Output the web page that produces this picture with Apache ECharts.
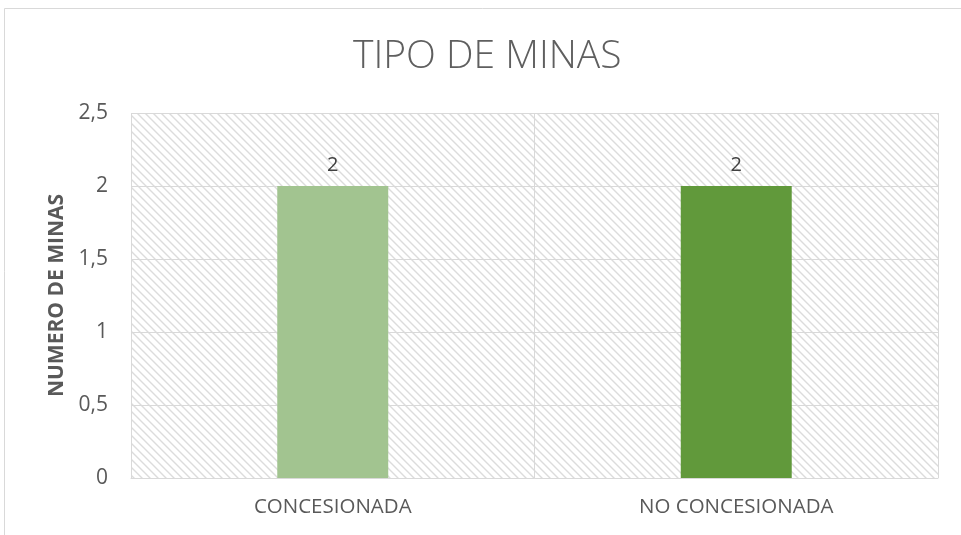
<!DOCTYPE html>
<html>
<head>
<meta charset="utf-8">
<script src="https://cdn.jsdelivr.net/npm/echarts@6/dist/echarts.min.js"></script>
<style>
html,body{margin:0;padding:0;background:#fff;}
#chart{width:961px;height:535px;}
</style>
</head>
<body>
<div id="chart"></div>
<script>
const categories = ['CONCESIONADA', 'NO CONCESIONADA'];
const values = [2, 2];
const barColors = ['#A2C490', '#61993B'];
const yTicks = [0, 0.5, 1, 1.5, 2, 2.5];

// hatch pattern tile
const tile = document.createElement('canvas');
tile.width = 8; tile.height = 8;
const ctx = tile.getContext('2d');
ctx.fillStyle = '#ffffff';
ctx.fillRect(0, 0, 8, 8);
ctx.strokeStyle = '#dcdcdc';
ctx.lineWidth = 1.4;
ctx.beginPath();
ctx.moveTo(-2, -2); ctx.lineTo(10, 10);
ctx.moveTo(-10, -2); ctx.lineTo(2, 10);
ctx.moveTo(6, -2); ctx.lineTo(18, 10);
ctx.stroke();

const chart = echarts.init(document.getElementById('chart'), null, {renderer: 'canvas'});
const fmt = v => String(v).replace('.', ',');

chart.setOption({
  animation: false,
  graphic: [
    {type: 'line', shape: {x1: 4.5, y1: 8.5, x2: 961, y2: 8.5}, style: {stroke: '#d9d9d9', lineWidth: 1}},
    {type: 'line', shape: {x1: 4.5, y1: 8.5, x2: 4.5, y2: 535}, style: {stroke: '#d9d9d9', lineWidth: 1}}
  ],
  title: {
    text: 'TIPO DE MINAS',
    left: 348,
    top: 32,
    textStyle: {fontFamily: 'Open Sans', fontWeight: 300, fontSize: 39, color: '#5f5f5f'}
  },
  grid: {
    left: 131, right: 23, top: 113, bottom: 57,
    show: true,
    borderWidth: 0,
    backgroundColor: {image: tile, repeat: 'repeat'}
  },
  xAxis: {
    type: 'category',
    data: categories,
    axisLine: {show: true, lineStyle: {color: '#d9d9d9', width: 1}},
    axisTick: {show: false},
    splitLine: {show: true, lineStyle: {color: '#d9d9d9', width: 1}},
    axisLabel: {color: '#595959', fontFamily: 'Open Sans', fontSize: 20.5, margin: 19, interval: 0}
  },
  yAxis: {
    type: 'value',
    min: 0, max: 2.5, interval: 0.5,
    name: 'NUMERO DE MINAS',
    nameLocation: 'middle',
    nameGap: 62,
    nameTextStyle: {color: '#595959', fontFamily: 'Open Sans', fontWeight: 'bold', fontSize: 21},
    axisLine: {show: false},
    axisTick: {show: false},
    splitLine: {show: true, lineStyle: {color: '#d9d9d9', width: 1}},
    axisLabel: {color: '#595959', fontFamily: 'Open Sans', fontSize: 21, margin: 23, formatter: v => fmt(v)}
  },
  series: [{
    type: 'bar',
    data: values.map((v, i) => ({value: v, itemStyle: {color: barColors[i]}})),
    barWidth: '27.5%',
    label: {show: true, position: 'top', distance: 11, color: '#404040', fontFamily: 'Open Sans', fontSize: 20, formatter: p => fmt(p.value)}
  }]
});
</script>
</body>
</html>
